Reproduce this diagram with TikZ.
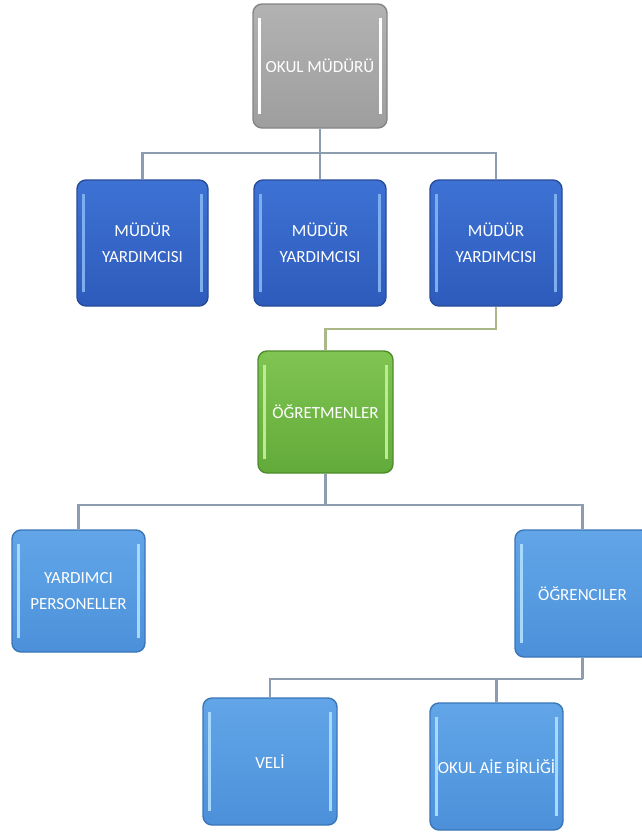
\documentclass[tikz,border=0pt]{standalone}
\usepackage{fontspec}
\setmainfont{Carlito}
\usetikzlibrary{calc}
\definecolor{conn}{HTML}{8C9DB0}
\definecolor{connG}{HTML}{A9B886}
\definecolor{grayT}{HTML}{B2B2B2}
\definecolor{grayB}{HTML}{9E9E9E}
\definecolor{grayE}{HTML}{858585}
\definecolor{dbT}{HTML}{3D72D4}
\definecolor{dbB}{HTML}{2E5BBB}
\definecolor{dbE}{HTML}{274C9A}
\definecolor{dbH}{HTML}{7FAEEE}
\definecolor{grT}{HTML}{80C552}
\definecolor{grB}{HTML}{62AA3A}
\definecolor{grE}{HTML}{4E8C2C}
\definecolor{grH}{HTML}{BDEB94}
\definecolor{lbT}{HTML}{62A6E8}
\definecolor{lbB}{HTML}{4C90DA}
\definecolor{lbE}{HTML}{3A76B8}
\definecolor{lbH}{HTML}{A8D8FA}
\tikzset{
  x=1pt, y=1pt,
  mybox/.style n args={4}{rectangle, rounded corners=9pt, draw=#4, line width=1.4pt,
    top color=#1, bottom color=#2, text=white, align=center, inner sep=0pt,
    font=\fontsize{17}{26}\selectfont,
    path picture={
      \fill[#3, sharp corners] ([xshift=5pt,yshift=-14pt]path picture bounding box.north west) rectangle ([xshift=8pt,yshift=14pt]path picture bounding box.south west);
      \fill[#3, sharp corners] ([xshift=-8pt,yshift=-14pt]path picture bounding box.north east) rectangle ([xshift=-5pt,yshift=14pt]path picture bounding box.south east);
    }},
  graybox/.style={mybox={grayT}{grayB}{white}{grayE}},
  dbox/.style={mybox={dbT}{dbB}{dbH}{dbE}},
  gbox/.style={mybox={grT}{grB}{grH}{grE}},
  lbox/.style={mybox={lbT}{lbB}{lbH}{lbE}},
  link/.style={draw=conn, line width=2.6pt},
  linkg/.style={draw=connG, line width=2.6pt},
}
\begin{document}
\begin{tikzpicture}
\useasboundingbox[fill=white] (0,0) rectangle (642,-833);
% nodes
\node[graybox, minimum width=134pt, minimum height=124pt] (top) at (320,-66) {OKUL MÜDÜRÜ};
\node[dbox, minimum width=131pt, minimum height=126pt] (m1) at (142.5,-243) {MÜDÜR\\YARDIMCISI};
\node[dbox, minimum width=132pt, minimum height=126pt] (m2) at (320,-243) {MÜDÜR\\YARDIMCISI};
\node[dbox, minimum width=132pt, minimum height=126pt] (m3) at (496,-243) {MÜDÜR\\YARDIMCISI};
\node[gbox, minimum width=135pt, minimum height=122pt] (ogr) at (325.5,-412) {ÖĞRETMENLER};
\node[lbox, minimum width=133pt, minimum height=122pt] (yp) at (78.5,-591) {YARDIMCI\\PERSONELLER};
\node[lbox, minimum width=135pt, minimum height=127pt] (ogc) at (582.5,-593.5) {ÖĞRENCILER};
\node[lbox, minimum width=134pt, minimum height=127pt] (veli) at (270,-761.5) {VELİ};
\node[lbox, minimum width=133pt, minimum height=127pt] (okul) at (496.5,-766.5) {OKUL AİE BİRLİĞİ};
% junctions
\coordinate (j1) at (320,-153);
\coordinate (j2) at (496,-329);
\coordinate (j3) at (325.5,-505);
\coordinate (j4) at (582.5,-679);
% connectors
\draw[link] (top.south) -- (j1);
\draw[link] (j1) -| (m1.north);
\draw[link] (j1) -- (m2.north);
\draw[link] (j1) -| (m3.north);
\draw[linkg] (m3.south) -- (j2) -| (ogr.north);
\draw[link] (ogr.south) -- (j3);
\draw[link] (j3) -| (yp.north);
\draw[link] (j3) -| (ogc.north);
\draw[link] (ogc.south) -- (j4);
\draw[link] (j4) -| (veli.north);
\draw[link] (j4) -| (okul.north);
\end{tikzpicture}
\end{document}
